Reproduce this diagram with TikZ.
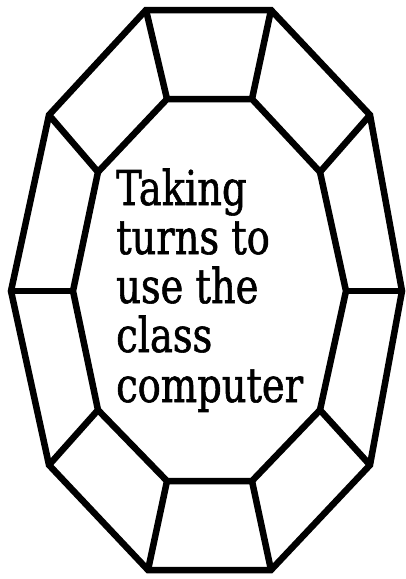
\documentclass[tikz,border=0pt]{standalone}
\usepackage{fontspec}
\newfontfamily\labelfont[FakeStretch=0.8,FakeBold=1.2]{DejaVu Serif}
\begin{document}
\begin{tikzpicture}[x=1pt,y=-1pt,
  edge/.style={line width=6.5pt,line join=miter,line cap=rect},
  lbl/.style={anchor=base west,inner sep=0pt,font=\labelfont\fontsize{48}{50}\selectfont}]
\useasboundingbox (0,0) rectangle (406,579);
% outer vertices
\coordinate (o1) at (146,10);
\coordinate (o2) at (271,10);
\coordinate (o3) at (370,115);
\coordinate (o4) at (402,291);
\coordinate (o5) at (370,465);
\coordinate (o6) at (271,570);
\coordinate (o7) at (148,570);
\coordinate (o8) at (49,465);
\coordinate (o9) at (11,291);
\coordinate (o10) at (49,115);
% inner vertices
\coordinate (i1) at (167,99);
\coordinate (i2) at (252,99);
\coordinate (i3) at (320,172);
\coordinate (i4) at (346,291);
\coordinate (i5) at (320,410);
\coordinate (i6) at (252,481);
\coordinate (i7) at (167,481);
\coordinate (i8) at (98,410);
\coordinate (i9) at (73,291);
\coordinate (i10) at (98,172);
\draw[edge] (o1)--(o2)--(o3)--(o4)--(o5)--(o6)--(o7)--(o8)--(o9)--(o10)--cycle;
\draw[edge] (i1)--(i2)--(i3)--(i4)--(i5)--(i6)--(i7)--(i8)--(i9)--(i10)--cycle;
\foreach \k in {1,...,10} \draw[edge,line cap=butt] (i\k)--(o\k);
\node[lbl] (l1) at (116,205) {Taking};
\node[lbl] (l2) at (116,254) {turns to};
\node[lbl] (l3) at (116,303) {use the};
\node[lbl] (l4) at (116,352) {class};
\node[lbl] (l5) at (116,402) {computer};
\end{tikzpicture}
\end{document}
